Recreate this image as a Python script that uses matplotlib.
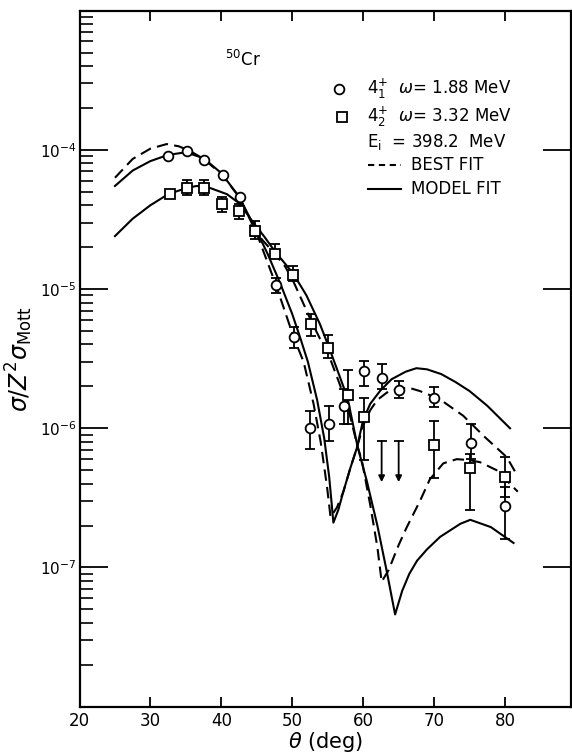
import matplotlib
matplotlib.use("Agg")
import matplotlib.pyplot as plt
import numpy as np

plt.rcParams['font.family'] = ['DejaVu Sans']
plt.rcParams['mathtext.fontset'] = 'dejavusans'

# ~~~~~ data ~~~~~
# 4_1+ state (circles)
circ_x = [32.5, 35.1, 37.5, 40.2, 42.6, 44.8, 47.7, 50.2, 52.5, 55.2, 57.3,
          60.05, 62.6, 65.0, 70.0, 75.2, 80.0]
circ_y = [9.1e-5, 9.8e-5, 8.5e-5, 6.6e-5, 4.6e-5, 2.6e-5, 1.07e-5, 4.5e-6,
          1.01e-6, 1.07e-6, 1.44e-6, 2.57e-6, 2.3e-6, 1.88e-6, 1.66e-6,
          7.85e-7, 2.77e-7]
circ_hi = [9.1e-5, 9.8e-5, 8.5e-5, 6.6e-5, 4.6e-5, 2.8e-5, 1.21e-5, 5.3e-6,
           1.34e-6, 1.45e-6, 1.9e-6, 3.05e-6, 2.9e-6, 2.2e-6, 1.97e-6,
           1.07e-6, 3.8e-7]
circ_lo = [9.1e-5, 9.8e-5, 8.5e-5, 6.6e-5, 4.6e-5, 2.4e-5, 9.4e-6, 3.8e-6,
           7.1e-7, 8.1e-7, 1.07e-6, 2.0e-6, 1.9e-6, 1.66e-6, 1.43e-6,
           6.0e-7, 1.6e-7]

# 4_2+ state (squares)
sq_x = [32.75, 35.2, 37.6, 40.05, 42.5, 44.8, 47.6, 50.1, 52.6, 55.1, 57.8,
        60.1, 70.0, 75.1, 80.0]
sq_y = [4.8e-5, 5.3e-5, 5.3e-5, 4.1e-5, 3.65e-5, 2.63e-5, 1.8e-5, 1.27e-5,
        5.6e-6, 3.8e-6, 1.74e-6, 1.2e-6, 7.6e-7, 5.2e-7, 4.47e-7]
sq_hi = [4.8e-5, 6.1e-5, 6.1e-5, 4.6e-5, 4.1e-5, 3.1e-5, 2.1e-5, 1.47e-5,
         6.6e-6, 4.7e-6, 2.6e-6, 1.66e-6, 1.12e-6, 6.5e-7, 6.2e-7]
sq_lo = [4.8e-5, 4.75e-5, 4.75e-5, 3.6e-5, 3.2e-5, 2.3e-5, 1.69e-5, 1.15e-5,
         4.6e-6, 3.2e-6, 1.07e-6, 5.9e-7, 4.4e-7, 2.6e-7, 3.2e-7]

# upper limits (arrows)
lim_x = [62.6, 65.0]
lim_top = [8.1e-7, 8.1e-7]
lim_bot = [4.1e-7, 4.1e-7]

# fit curves
circ_model_x = [25, 27.5, 30, 32.5, 35, 37.5, 40, 42.5, 45, 46.5, 48.3, 50,
                51.1, 52.2, 53.5, 54.5, 55.2, 55.8, 56.5, 57.2, 58.2, 59.1,
                60, 61, 62.4, 64, 66, 67.5, 69, 71, 73, 75, 77.5, 80.7]
circ_model_y = [5.5e-5, 7.1e-5, 8.3e-5, 9.2e-5, 9.6e-5, 8.7e-5, 6.8e-5,
                4.6e-5, 2.6e-5, 1.8e-5, 1.1e-5, 6.6e-6, 4.5e-6, 3.0e-6,
                1.6e-6, 8.5e-7, 4.5e-7, 2.1e-7, 2.6e-7, 3.5e-7, 5.2e-7,
                7.2e-7, 1.15e-6, 1.5e-6, 1.86e-6, 2.25e-6, 2.55e-6, 2.7e-6,
                2.65e-6, 2.45e-6, 2.15e-6, 1.85e-6, 1.45e-6, 1.0e-6]

circ_best_x = [25, 27.5, 30, 32.3, 34, 35.6, 37.5, 40, 42.5, 45, 47.7, 50.2,
               51.6, 53, 54, 54.9, 55.4, 56.3, 57.2, 58.2, 59.1, 60, 61, 62,
               63.5, 65, 66.5, 68, 70, 71.3, 74.1, 77.2, 80.25, 81.7]
circ_best_y = [6.3e-5, 8.6e-5, 1.02e-4, 1.1e-4, 1.06e-4, 9.8e-5, 8.6e-5,
               6.7e-5, 4.6e-5, 2.5e-5, 1.07e-5, 4.5e-6, 3.0e-6, 1.5e-6, 8e-7,
               3.8e-7, 2.3e-7, 2.7e-7, 3.5e-7, 5.2e-7, 7.2e-7, 1.05e-6,
               1.35e-6, 1.6e-6, 1.83e-6, 1.93e-6, 1.95e-6, 1.85e-6, 1.68e-6,
               1.55e-6, 1.23e-6, 8.6e-7, 6.2e-7, 4.6e-7]

sq_model_x = [25, 27.5, 30, 32.5, 35, 36.5, 38.5, 40.8, 42.6, 44.5, 46, 47.6,
              50.1, 52, 53.9, 55.1, 56.5, 57.8, 59.2, 60.5, 62, 63.3, 64.5,
              65.5, 66.5, 67.6, 69, 70.85, 73.7, 75.1, 78, 81.2]
sq_model_y = [2.4e-5, 3.2e-5, 4.0e-5, 4.8e-5, 5.3e-5, 5.5e-5, 5.3e-5, 4.8e-5,
              4.1e-5, 3.0e-5, 2.4e-5, 1.85e-5, 1.3e-5, 9e-6, 5.6e-6, 3.9e-6,
              2.5e-6, 1.65e-6, 7.4e-7, 4.2e-7, 2.0e-7, 9.5e-8, 4.6e-8,
              6.8e-8, 9.0e-8, 1.12e-7, 1.35e-7, 1.66e-7, 2.06e-7, 2.2e-7,
              1.95e-7, 1.5e-7]

sq_best_x = [44, 45, 46.5, 47.7, 49, 50.1, 51.5, 52.6, 54, 55.1, 56.5, 57.8,
             59.2, 59.8, 61, 62, 62.6, 63.55, 65, 66.15, 68, 69.4, 71.3, 73.2,
             75, 76.5, 78.8, 81.8]
sq_best_y = [2.9e-5, 2.5e-5, 2.05e-5, 1.75e-5, 1.45e-5, 1.15e-5, 8e-6, 6e-6,
             4.3e-6, 3.4e-6, 2.2e-6, 1.45e-6, 7.4e-7, 5.9e-7, 2.8e-7, 1.4e-7,
             7.9e-8, 9.5e-8, 1.45e-7, 1.95e-7, 3.0e-7, 4.3e-7, 5.6e-7, 6.0e-7,
             5.9e-7, 5.7e-7, 5e-7, 3.5e-7]

xticks = [20, 30, 40, 50, 60, 70, 80]
yticks = [1e-7, 1e-6, 1e-5, 1e-4]

# ~~~~~ figure ~~~~~
fig = plt.figure(figsize=(5.72, 7.55), dpi=100)
ax = fig.add_axes([79.5/572, (755-706.7)/755, (571-79.5)/572, (706.7-10.6)/755])
ax.set_yscale('log')
ax.set_xlim(20, 89.3)
ax.set_ylim(1e-8, 1e-3)

dash = (0, (5.5, 3))
lw = 1.5
ax.plot(circ_model_x, circ_model_y, color='k', lw=lw, zorder=2)
ax.plot(circ_best_x, circ_best_y, color='k', lw=lw, ls=dash, zorder=2)
ax.plot(sq_model_x, sq_model_y, color='k', lw=lw, zorder=2)
ax.plot(sq_best_x, sq_best_y, color='k', lw=lw, ls=dash, zorder=2)

cy = np.array(circ_y)
ax.errorbar(circ_x, circ_y, yerr=[cy - np.array(circ_lo), np.array(circ_hi) - cy],
            fmt='o', ms=7, mfc='white', mec='k', mew=1.3, ecolor='k',
            elinewidth=1.3, capsize=3.5, capthick=1.3, zorder=4)
sy = np.array(sq_y)
ax.errorbar(sq_x, sq_y, yerr=[sy - np.array(sq_lo), np.array(sq_hi) - sy],
            fmt='s', ms=7, mfc='white', mec='k', mew=1.3, ecolor='k',
            elinewidth=1.3, capsize=3.5, capthick=1.3, zorder=4)

for x, t, b in zip(lim_x, lim_top, lim_bot):
    ax.annotate('', xy=(x, b), xytext=(x, t),
                arrowprops=dict(arrowstyle='-|>', color='k', lw=1.3,
                                mutation_scale=9, shrinkA=0, shrinkB=0))
    ax.plot([x], [t], marker='_', ms=7, mew=1.3, color='k')

# axes styling
for s in ax.spines.values():
    s.set_linewidth(1.6)
ax.set_xticks(xticks)
ax.set_yticks(yticks)
ax.set_yticks([m * 10.0**e for e in range(-8, -3) for m in range(2, 10)], minor=True)
ax.set_yticklabels([r'$10^{-7}$', r'$10^{-6}$', r'$10^{-5}$', r'$10^{-4}$'])
ax.tick_params(axis='x', which='major', direction='in', top=True, length=7,
               width=1.3, labelsize=12, pad=4)
ax.tick_params(axis='y', which='major', direction='in', right=True, length=20,
               width=1.3, labelsize=11, pad=2)
ax.tick_params(axis='y', which='minor', direction='in', right=False, length=9,
               width=1.2)
ax.tick_params(axis='x', which='minor', bottom=False, top=False)

ax.set_xlabel(r'$\theta$ (deg)', fontsize=15, labelpad=0)
ax.set_ylabel(r'$\sigma/Z^2\sigma_{\rm Mott}$', fontsize=17, labelpad=4)

# labels and legend
tr = ax.transAxes
ax.text(0.296, 0.929, r'$^{50}$Cr', transform=tr, fontsize=12, va='center')
ax.plot([0.528], [0.887], 'o', ms=7, mfc='white', mec='k', mew=1.3, transform=tr)
ax.text(0.585, 0.887, r'$4^{+}_{1}$  $\omega$= 1.88 MeV', transform=tr,
        fontsize=12, va='center')
ax.plot([0.534], [0.847], 's', ms=7, mfc='white', mec='k', mew=1.3, transform=tr)
ax.text(0.585, 0.847, r'$4^{+}_{2}$  $\omega$= 3.32 MeV', transform=tr,
        fontsize=12, va='center')
ax.text(0.585, 0.811, r'E$_{\rm i}$  = 398.2  MeV', transform=tr,
        fontsize=12, va='center')
ax.plot([0.587, 0.654], [0.778, 0.778], color='k', lw=lw, ls=(0, (3, 2.2)),
        transform=tr)
ax.text(0.674, 0.778, 'BEST FIT', transform=tr, fontsize=12, va='center')
ax.plot([0.587, 0.654], [0.743, 0.743], color='k', lw=lw, transform=tr)
ax.text(0.674, 0.743, 'MODEL FIT', transform=tr, fontsize=12, va='center')

fig.savefig('out.png', dpi=100)
